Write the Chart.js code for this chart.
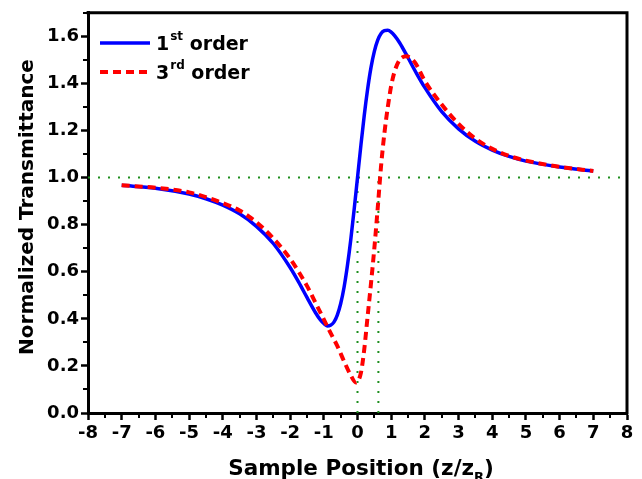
<!DOCTYPE html>
<html><head><meta charset="utf-8">
<script src="https://cdn.jsdelivr.net/npm/chart.js@4"></script>
<style>html,body{margin:0;padding:0;background:#fff}#wrap{width:642px;height:479px}</style>
</head><body><div id="wrap"><canvas id="c" width="642" height="479"></canvas></div>
<script>
// ---- data ----
const xTicks = [-8,-7,-6,-5,-4,-3,-2,-1,0,1,2,3,4,5,6,7,8];
const xMinor = [-7.5,-6.5,-5.5,-4.5,-3.5,-2.5,-1.5,-0.5,0.5,1.5,2.5,3.5,4.5,5.5,6.5,7.5];
const yTicks = [0,0.2,0.4,0.6,0.8,1.0,1.2,1.4,1.6];
const yMinor = [0.1,0.3,0.5,0.7,0.9,1.1,1.3,1.5,1.7];
const seriesNames = ['1st order','3rd order'];

const firstOrderX = [-7,-6,-5,-4.5,-4,-3.5,-3,-2.5,-2,-1.75,-1.5,-1.25,-1.1,-1,-0.9,-0.8,-0.7,-0.6,-0.5,-0.4,-0.3,-0.2,-0.1,0,0.1,0.2,0.3,0.4,0.5,0.6,0.7,0.8,0.9,1.0,1.1,1.25,1.5,1.75,2,2.5,3,3.5,4,4.5,5,6,7];
const firstOrderY = [0.967,0.955,0.930,0.910,0.883,0.846,0.793,0.720,0.618,0.557,0.491,0.427,0.395,0.380,0.370,0.373,0.386,0.416,0.464,0.533,0.625,0.736,0.864,1.0,1.136,1.264,1.375,1.467,1.536,1.584,1.612,1.624,1.626,1.618,1.603,1.573,1.509,1.443,1.382,1.280,1.207,1.154,1.117,1.090,1.070,1.045,1.028];

const thirdOrderX = [-7,-6,-5,-4,-3.5,-3,-2.5,-2,-1.5,-1.2,-1,-0.8,-0.6,-0.4,-0.2,-0.05,0.1,0.2,0.3,0.4,0.5,0.6,0.7,0.8,0.9,1.0,1.1,1.25,1.45,1.7,2.0,2.5,3.0,3.5,4.0,4.5,5,6,7];
const thirdOrderY = [0.967,0.957,0.937,0.892,0.860,0.810,0.742,0.655,0.540,0.455,0.398,0.340,0.285,0.220,0.160,0.130,0.170,0.270,0.410,0.550,0.700,0.870,1.050,1.190,1.300,1.390,1.450,1.500,1.515,1.490,1.410,1.310,1.228,1.165,1.122,1.092,1.072,1.046,1.028];

const refLevelX = [-8, 8];
const refLevelY = [1.0, 1.0];
const markerA_X = [0, 0];
const markerB_X = [0.62, 0.62];
const markerY = [0, 1.0];

const pts = (xs, ys) => xs.map((x, i) => ({x, y: ys[i]}));
const FONT = 'DejaVu Sans';
Chart.defaults.font.family = FONT;
Chart.defaults.color = '#000';

const green = '#1f8f1f';
const decor = {
  id: 'decor',
  afterDraw(chart) {
    const ctx = chart.ctx, a = chart.chartArea, xs = chart.scales.x, ys = chart.scales.y;
    ctx.save();
    // top & right frame
    ctx.strokeStyle = '#000'; ctx.lineWidth = 3; ctx.lineCap = 'square';
    ctx.beginPath(); ctx.moveTo(a.left, a.top); ctx.lineTo(a.right, a.top); ctx.lineTo(a.right, a.bottom); ctx.stroke();
    // minor ticks
    ctx.lineWidth = 2; ctx.lineCap = 'butt';
    ctx.beginPath();
    for (const v of xMinor) { const p = Math.round(xs.getPixelForValue(v)); ctx.moveTo(p, a.bottom); ctx.lineTo(p, a.bottom + 5); }
    for (const v of yMinor) { const p = Math.round(ys.getPixelForValue(v)); ctx.moveTo(a.left, p); ctx.lineTo(a.left - 5, p); }
    ctx.stroke();
    // legend
    ctx.lineWidth = 3.5; ctx.strokeStyle = '#0000ff'; ctx.setLineDash([]);
    ctx.beginPath(); ctx.moveTo(100, 43); ctx.lineTo(150, 43); ctx.stroke();
    ctx.lineWidth = 4; ctx.strokeStyle = '#ff0000'; ctx.setLineDash([8, 5]);
    ctx.beginPath(); ctx.moveTo(100, 72); ctx.lineTo(152, 72); ctx.stroke();
    ctx.setLineDash([]);
    ctx.fillStyle = '#000'; ctx.textAlign = 'left'; ctx.textBaseline = 'alphabetic';
    const legendRow = (num, sup, rest, y) => {
      let x = 156;
      ctx.font = 'bold 19px ' + FONT; ctx.fillText(num, x, y); x += ctx.measureText(num).width + 1;
      ctx.font = 'bold 12px ' + FONT; ctx.fillText(sup, x, y - 10); x += ctx.measureText(sup).width;
      ctx.font = 'bold 19px ' + FONT; ctx.fillText(rest, x, y);
    };
    legendRow('1', 'st', ' order', 50);
    legendRow('3', 'rd', ' order', 79);
    // y title
    ctx.save();
    ctx.translate(33, 207); ctx.rotate(-Math.PI / 2);
    ctx.font = 'bold 20px ' + FONT; ctx.textAlign = 'center'; ctx.textBaseline = 'alphabetic';
    ctx.fillText('Normalized Transmittance', 0, 0);
    ctx.restore();
    // x title with subscript
    const t1 = 'Sample Position (z/z', sub = 'R', t2 = ')';
    ctx.font = 'bold 21.5px ' + FONT; const w1 = ctx.measureText(t1).width, w3 = ctx.measureText(t2).width;
    ctx.font = 'bold 13px ' + FONT; const w2 = ctx.measureText(sub).width;
    let x0 = 361 - (w1 + w2 + w3) / 2; const by = 475;
    ctx.font = 'bold 21.5px ' + FONT; ctx.fillText(t1, x0, by); x0 += w1;
    ctx.font = 'bold 13px ' + FONT; ctx.fillText(sub, x0, by + 6); x0 += w2;
    ctx.font = 'bold 21.5px ' + FONT; ctx.fillText(t2, x0, by);
    ctx.restore();
  }
};

new Chart(document.getElementById('c'), {
  type: 'line',
  data: {
    datasets: [
      { label: seriesNames[1], data: pts(thirdOrderX, thirdOrderY), borderColor: '#ff0000', borderWidth: 4, borderDash: [8, 5], pointRadius: 0, cubicInterpolationMode: 'monotone', fill: false, order: 1 },
      { label: seriesNames[0], data: pts(firstOrderX, firstOrderY), borderColor: '#0000ff', borderWidth: 3.5, pointRadius: 0, cubicInterpolationMode: 'monotone', fill: false, order: 2 },
      { label: 'ref', data: pts(refLevelX, refLevelY), borderColor: green, borderWidth: 2, borderDash: [2, 8], pointRadius: 0, order: 3 },
      { label: 'ma', data: pts(markerA_X, markerY), borderColor: green, borderWidth: 2, borderDash: [2, 8], pointRadius: 0, order: 3 },
      { label: 'mb', data: pts(markerB_X, markerY), borderColor: green, borderWidth: 2, borderDash: [2, 8], pointRadius: 0, order: 3 }
    ]
  },
  options: {
    responsive: false, animation: false, devicePixelRatio: 1,
    layout: { padding: { top: 11, right: 15, left: 0, bottom: 0 } },
    plugins: { legend: { display: false }, tooltip: { enabled: false } },
    scales: {
      x: {
        type: 'linear', min: -8, max: 8,
        afterBuildTicks: s => { s.ticks = xTicks.map(v => ({ value: v })); },
        afterFit: s => { s.height = 66; },
        ticks: { autoSkip: false, maxRotation: 0, padding: 3, font: { size: 18, weight: 'bold' }, color: '#000', callback: v => String(v) },
        grid: { display: true, drawOnChartArea: false, drawTicks: true, tickLength: 7, tickWidth: 2.5, tickColor: '#000' },
        border: { display: true, width: 3, color: '#000' }
      },
      y: {
        type: 'linear', min: 0, max: 1.7,
        afterBuildTicks: s => { s.ticks = yTicks.map(v => ({ value: v })); },
        afterFit: s => { s.width = 88; },
        ticks: { autoSkip: false, padding: 2, font: { size: 18, weight: 'bold' }, color: '#000', callback: v => Number(v).toFixed(1) },
        grid: { display: true, drawOnChartArea: false, drawTicks: true, tickLength: 7, tickWidth: 2.5, tickColor: '#000' },
        border: { display: true, width: 3, color: '#000' }
      }
    }
  },
  plugins: [decor]
});
</script>
</body></html>
